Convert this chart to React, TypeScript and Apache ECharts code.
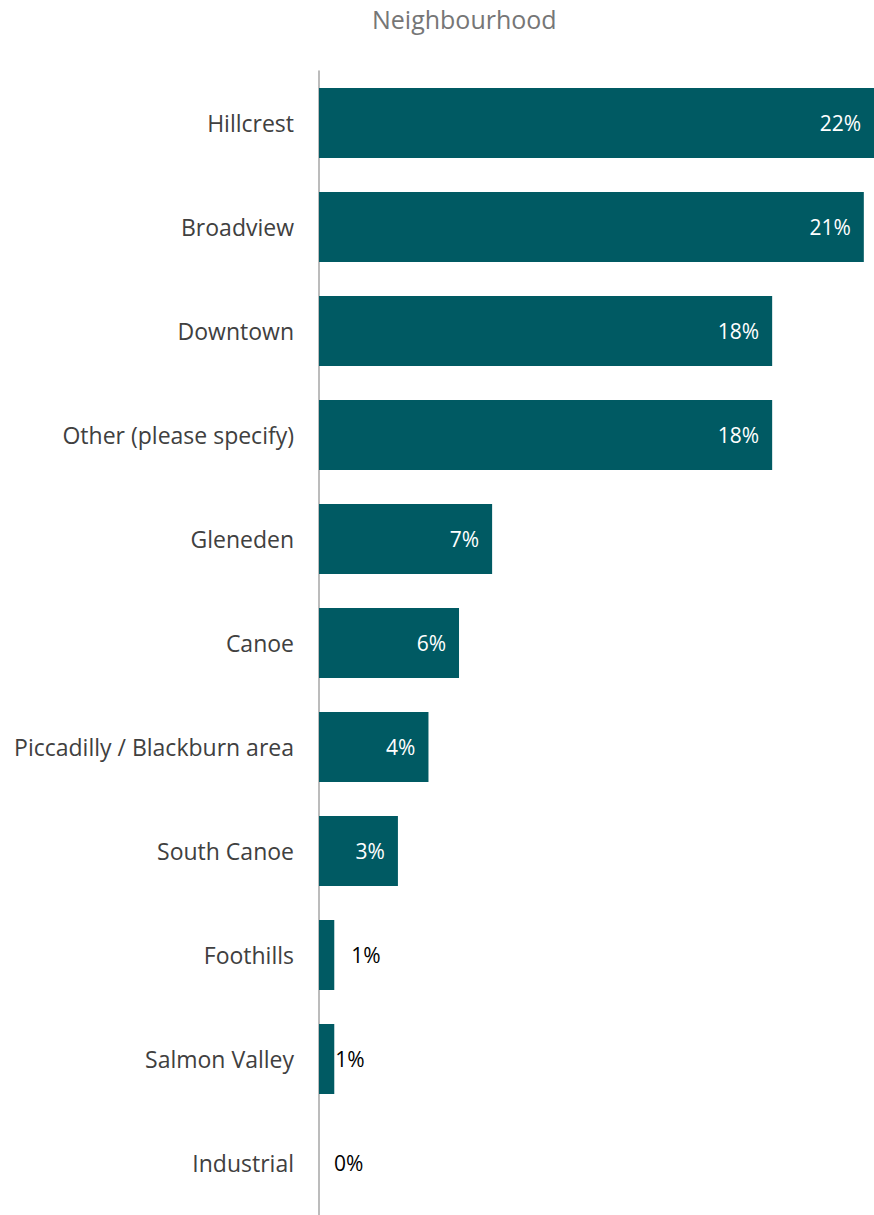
import React, { useEffect, useRef } from "react";
import * as echarts from "echarts";

const categories = [
  "Hillcrest",
  "Broadview",
  "Downtown",
  "Other (please specify)",
  "Gleneden",
  "Canoe",
  "Piccadilly / Blackburn area",
  "South Canoe",
  "Foothills",
  "Salmon Valley",
  "Industrial",
];
const values = [22.0, 21.4, 17.8, 17.8, 6.8, 5.5, 4.3, 3.1, 0.6, 0.6, 0];
const titleText = "Neighbourhood";

const FONT = "'Open Sans', 'Noto Sans', sans-serif";

export default function App() {
  const ref = useRef<HTMLDivElement>(null);
  useEffect(() => {
    if (!ref.current) return;
    const chart = echarts.init(ref.current, null, { renderer: "svg" });
    const data = values.map((v, i) => {
      if (v >= 2) {
        return {
          value: v,
          label: { position: "insideRight", distance: 13, color: "#ffffff" },
        };
      }
      const dist = categories[i] === "Foothills" ? 17 : categories[i] === "Salmon Valley" ? 1 : 15;
      return {
        value: v,
        label: { position: "right", distance: dist, color: "#000000" },
      };
    });
    chart.setOption({
      animation: false,
      title: {
        text: titleText,
        left: 367,
        top: 1,
        textStyle: { fontFamily: FONT, fontSize: 25, fontWeight: "normal", color: "#767676" },
      },
      grid: { left: 319, right: 0, top: 71, bottom: 0, containLabel: false },
      xAxis: {
        type: "value",
        min: 0,
        max: 21.8,
        show: false,
      },
      yAxis: {
        type: "category",
        inverse: true,
        data: categories,
        axisLine: { show: true, lineStyle: { color: "#a6a6a6", width: 1.5 } },
        axisTick: { show: false },
        axisLabel: { fontFamily: FONT, fontSize: 23, color: "#404040", margin: 25 },
      },
      series: [
        {
          type: "bar",
          data,
          barWidth: 70,
          itemStyle: { color: "#005a63" },
          label: {
            show: true,
            fontFamily: FONT,
            fontSize: 21,
            formatter: (p: any) => Math.round(p.value) + "%",
          },
        },
      ],
    });
    return () => chart.dispose();
  }, []);
  return (
    <div
      ref={ref}
      style={{ position: "fixed", left: 0, top: 0, width: 874, height: 1215, background: "#fff" }}
    />
  );
}
